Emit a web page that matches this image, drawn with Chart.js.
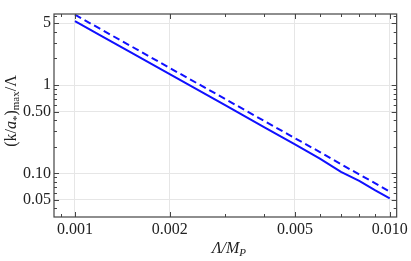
<!DOCTYPE html>
<html>
<head>
<meta charset="utf-8">
<script src="https://cdn.jsdelivr.net/npm/chart.js@4"></script>
<style>
  html, body { margin: 0; padding: 0; background: #fff; }
  canvas { display: block; }
</style>
</head>
<body>
<canvas id="chart" width="411" height="261"></canvas>
<script>
// Lambda / M_P
const xValues = [0.001, 0.0012, 0.0015, 0.002, 0.003, 0.004, 0.005, 0.006, 0.007, 0.008, 0.009, 0.010];
// (k/a*)max / Lambda
const solidValues = [5.3, 3.68, 2.36, 1.33, 0.59, 0.331, 0.212, 0.147, 0.104, 0.082, 0.064, 0.052];
const dashedValues = [6.25, 4.34, 2.78, 1.56, 0.695, 0.39, 0.25, 0.174, 0.127, 0.097, 0.077, 0.062];

const xMajor = [0.001, 0.002, 0.005, 0.010];
const xMajorLabels = ["0.001", "0.002", "0.005", "0.010"];
const xMinor = [0.0009, 0.003, 0.004, 0.006, 0.007, 0.008, 0.009];
const yMajor = [0.05, 0.1, 0.5, 1, 5];
const yMajorLabels = ["0.05", "0.10", "0.50", "1", "5"];
const yMinor = [0.04, 0.06, 0.07, 0.08, 0.09, 0.2, 0.3, 0.4, 0.6, 0.7, 0.8, 0.9, 2, 3, 4, 6];

const FONT = "'Liberation Serif', 'DejaVu Serif', serif";
const BLUE = "#1010ff";

function isMajor(list, v) {
  return list.some((m) => Math.abs(m - v) / m < 1e-6);
}

function labelFor(list, labels, v) {
  const i = list.findIndex((m) => Math.abs(m - v) / m < 1e-6);
  return i >= 0 ? labels[i] : "";
}

const framePlugin = {
  id: "frame",
  afterDatasetsDraw(chart) {
    const { ctx, chartArea: a, scales } = chart;
    ctx.save();
    ctx.strokeStyle = "#444";
    ctx.lineWidth = 1.2;
    ctx.strokeRect(a.left, a.top, a.right - a.left, a.bottom - a.top);
    ctx.lineWidth = 1;
    ctx.beginPath();
    scales.x.ticks.forEach((t) => {
      const px = Math.round(scales.x.getPixelForValue(t.value)) + 0.5;
      const len = isMajor(xMajor, t.value) ? 5 : 3;
      ctx.moveTo(px, a.bottom); ctx.lineTo(px, a.bottom - len);
      ctx.moveTo(px, a.top); ctx.lineTo(px, a.top + len);
    });
    scales.y.ticks.forEach((t) => {
      const py = Math.round(scales.y.getPixelForValue(t.value)) + 0.5;
      const len = isMajor(yMajor, t.value) ? 5 : 3;
      ctx.moveTo(a.left, py); ctx.lineTo(a.left + len, py);
      ctx.moveTo(a.right, py); ctx.lineTo(a.right - len, py);
    });
    ctx.stroke();
    ctx.restore();
  },
  afterDraw(chart) {
    const { ctx } = chart;
    ctx.save();
    ctx.fillStyle = "#222";
    ctx.textBaseline = "alphabetic";

    // x title: Λ/M_P
    const parts = [
      { t: "Λ/", f: "italic 16px " + FONT, dy: 0 },
      { t: "M", f: "italic 16px " + FONT, dy: 0 },
      { t: "P", f: "italic 11px " + FONT, dy: 3 },
    ];
    let w = 0;
    parts.forEach((p) => { ctx.font = p.f; w += ctx.measureText(p.t).width; });
    let x = 229 - w / 2;
    parts.forEach((p) => {
      ctx.font = p.f;
      ctx.fillText(p.t, x, 253 + p.dy);
      x += ctx.measureText(p.t).width;
    });

    // y title: (k/a*)max/Λ rotated
    const yp = [
      { t: "(k/", f: "16px " + FONT, dy: 0 },
      { t: "a", f: "italic 16px " + FONT, dy: 0 },
      { t: "*", f: "11px " + FONT, dy: 4 },
      { t: ")", f: "16px " + FONT, dy: 0 },
      { t: "max", f: "11px " + FONT, dy: 3 },
      { t: "/Λ", f: "16px " + FONT, dy: 0 },
    ];
    w = 0;
    yp.forEach((p) => { ctx.font = p.f; w += ctx.measureText(p.t).width; });
    ctx.translate(16, 111);
    ctx.rotate(-Math.PI / 2);
    x = -w / 2;
    yp.forEach((p) => {
      ctx.font = p.f;
      ctx.fillText(p.t, x, p.dy);
      x += ctx.measureText(p.t).width;
    });
    ctx.restore();
  },
};

new Chart(document.getElementById("chart"), {
  type: "line",
  data: {
    datasets: [
      {
        label: "solid",
        data: xValues.map((x, i) => ({ x: x, y: solidValues[i] })),
        borderColor: BLUE,
        borderWidth: 2,
        pointRadius: 0,
        fill: false,
      },
      {
        label: "dashed",
        data: xValues.map((x, i) => ({ x: x, y: dashedValues[i] })),
        borderColor: BLUE,
        borderWidth: 2,
        borderDash: [7, 4],
        pointRadius: 0,
        fill: false,
      },
    ],
  },
  options: {
    responsive: false,
    animation: false,
    devicePixelRatio: 1,
    layout: { padding: { top: 14, right: 13, left: 0, bottom: 0 } },
    plugins: {
      legend: { display: false },
      tooltip: { enabled: false },
    },
    scales: {
      x: {
        type: "logarithmic",
        min: 0.000858,
        max: 0.01052,
        afterBuildTicks: (scale) => {
          scale.ticks = xMajor.concat(xMinor).sort((p, q) => p - q).map((v) => ({ value: v }));
        },
        afterFit: (scale) => { scale.height = 44; },
        ticks: {
          autoSkip: false,
          maxRotation: 0,
          padding: 3,
          color: "#222",
          font: { family: FONT, size: 16 },
          callback: (v) => labelFor(xMajor, xMajorLabels, v),
        },
        grid: {
          drawTicks: false,
          color: (c) => (c.tick && isMajor(xMajor, c.tick.value) ? "#e6e6e6" : "rgba(0,0,0,0)"),
        },
        border: { display: false },
      },
      y: {
        type: "logarithmic",
        min: 0.032,
        max: 6.37,
        afterBuildTicks: (scale) => {
          scale.ticks = yMajor.concat(yMinor).sort((p, q) => p - q).map((v) => ({ value: v }));
        },
        afterFit: (scale) => { scale.width = 54; },
        ticks: {
          autoSkip: false,
          padding: 3,
          color: "#222",
          font: { family: FONT, size: 16 },
          callback: (v) => labelFor(yMajor, yMajorLabels, v),
        },
        grid: {
          drawTicks: false,
          color: (c) => (c.tick && isMajor(yMajor, c.tick.value) ? "#e6e6e6" : "rgba(0,0,0,0)"),
        },
        border: { display: false },
      },
    },
  },
  plugins: [framePlugin],
});
</script>
</body>
</html>
